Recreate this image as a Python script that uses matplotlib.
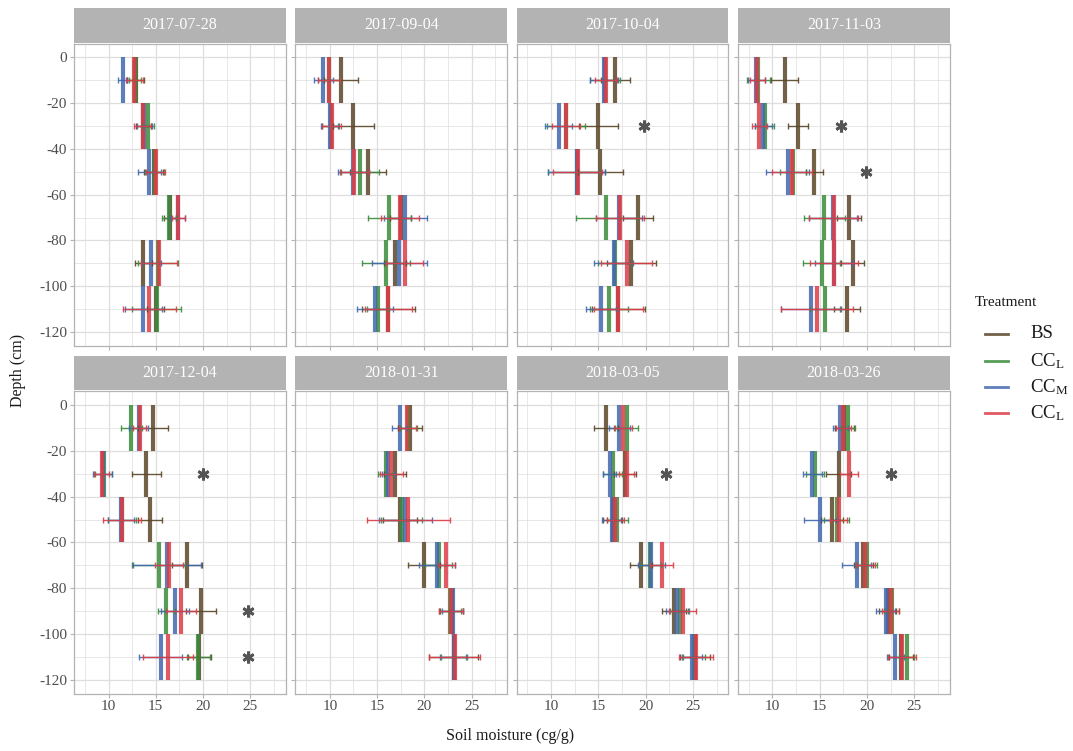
import matplotlib
matplotlib.use("Agg")
import matplotlib.pyplot as plt
import numpy as np

plt.rcParams['font.family'] = ['Liberation Serif', 'DejaVu Serif']
plt.rcParams['mathtext.fontset'] = 'custom'
plt.rcParams['mathtext.rm'] = 'Liberation Serif'
plt.rcParams['mathtext.it'] = 'Liberation Serif:italic'
plt.rcParams['axes.unicode_minus'] = False

dates = ["2017-07-28", "2017-09-04", "2017-10-04", "2017-11-03",
         "2017-12-04", "2018-01-31", "2018-03-05", "2018-03-26"]
depth_top = [0, -20, -40, -60, -80, -100]
depth_bot = [-20, -40, -60, -80, -100, -120]
treatments = ["BS", "CC$_\\mathrm{L}$", "CC$_\\mathrm{M}$", "CC$_\\mathrm{L}$"]
colors = ["#5a4628", "#3a8b3a", "#4268b0", "#dc3c46"]

# mean soil moisture per date (rows: layers 0-20 ... 100-120)
bs = [
    [12.9, 13.7, 14.8, 16.5, 13.7, 15.0],
    [11.2, 12.5, 14.0, 17.5, 16.9, 16.2],
    [16.8, 15.0, 15.2, 19.15, 18.5, 17.1],
    [11.3, 12.7, 14.45, 18.1, 18.5, 17.9],
    [14.7, 14.0, 14.4, 18.3, 19.8, 19.6],
    [18.5, 16.9, 17.4, 20.0, 22.9, 23.1],
    [15.8, 17.8, 16.5, 19.5, 23.0, 25.2],
    [17.6, 17.0, 16.3, 19.6, 22.2, 23.6],
]
ccl = [
    [12.8, 14.2, 14.9, 16.4, 15.2, 15.1],
    [9.9, 10.1, 13.2, 16.3, 15.95, 15.1],
    [15.7, 11.6, 12.7, 15.85, 16.8, 16.1],
    [8.5, 9.2, 12.2, 15.5, 15.2, 15.6],
    [12.4, 9.5, 11.4, 15.3, 16.1, 19.5],
    [18.3, 15.9, 17.6, 21.5, 22.7, 23.1],
    [18.0, 16.5, 17.0, 20.5, 23.6, 25.1],
    [18.0, 14.5, 16.8, 20.0, 22.6, 24.2],
]
ccm = [
    [11.5, 13.8, 14.3, 17.3, 14.5, 13.7],
    [9.3, 10.0, 12.5, 18.0, 17.35, 14.8],
    [15.6, 10.8, 12.7, 17.2, 16.6, 15.3],
    [8.3, 9.05, 11.6, 16.4, 16.5, 14.1],
    [13.2, 9.4, 11.3, 16.2, 17.0, 15.5],
    [17.4, 16.2, 18.0, 21.3, 23.0, 23.1],
    [17.2, 16.2, 16.4, 20.6, 23.3, 24.9],
    [17.2, 14.2, 15.0, 18.9, 22.0, 23.0],
]
ccl2 = [
    [12.7, 13.6, 15.0, 17.4, 15.3, 14.3],
    [9.9, 10.2, 12.6, 17.4, 17.9, 16.2],
    [15.8, 11.6, 12.8, 17.3, 18.0, 17.1],
    [8.4, 8.6, 12.1, 16.5, 16.5, 14.7],
    [13.3, 9.3, 11.4, 16.4, 17.7, 16.3],
    [18.2, 16.5, 18.3, 22.3, 22.8, 23.2],
    [17.6, 18.0, 16.8, 21.7, 23.9, 25.3],
    [17.5, 18.1, 17.0, 19.8, 22.5, 23.7],
]
# standard deviations (half error-bar widths)
sd_bs = [
    [0.9, 0.8, 1.0, 0.6, 0.9, 0.9],
    [1.8, 2.2, 1.9, 1.1, 1.2, 2.8],
    [1.5, 2.1, 2.4, 1.6, 2.6, 2.8],
    [1.4, 1.1, 0.9, 1.3, 1.2, 1.4],
    [1.6, 1.5, 1.3, 1.6, 1.6, 1.2],
    [1.3, 1.2, 1.8, 1.7, 1.2, 2.6],
    [1.3, 1.2, 1.0, 1.2, 1.3, 1.6],
    [1.0, 1.3, 1.2, 1.0, 0.9, 1.3],
]
sd_ccl = [
    [0.6, 0.6, 1.0, 0.7, 2.1, 2.6],
    [1.2, 0.9, 2.0, 2.3, 2.5, 1.2],
    [1.6, 2.0, 3.0, 3.2, 1.8, 2.0],
    [1.2, 1.0, 1.4, 2.2, 2.0, 1.6],
    [1.1, 0.9, 1.5, 2.8, 0.9, 1.2],
    [0.9, 0.8, 2.2, 1.4, 1.2, 1.3],
    [1.2, 1.0, 1.1, 1.1, 1.0, 1.2],
    [0.7, 1.0, 1.3, 1.1, 0.8, 0.8],
]
sd_ccm = [
    [0.5, 0.8, 1.2, 0.8, 1.0, 2.0],
    [1.0, 0.9, 1.6, 2.3, 2.9, 1.9],
    [1.5, 1.4, 3.0, 2.4, 2.1, 1.6],
    [0.9, 0.9, 2.3, 2.5, 2.0, 3.2],
    [1.0, 1.0, 1.4, 3.6, 1.5, 2.3],
    [0.8, 0.7, 2.8, 1.9, 1.1, 1.4],
    [1.1, 0.7, 1.0, 1.4, 1.2, 1.1],
    [0.8, 1.0, 1.7, 1.5, 1.0, 0.9],
]
sd_ccl2 = [
    [0.9, 0.9, 1.0, 0.7, 1.9, 2.8],
    [1.2, 1.0, 1.5, 2.0, 2.0, 2.5],
    [1.2, 1.5, 2.6, 2.5, 2.7, 2.6],
    [0.8, 0.8, 2.1, 2.6, 2.5, 3.8],
    [0.7, 0.8, 2.0, 1.5, 1.6, 2.6],
    [0.9, 1.2, 4.4, 0.9, 1.3, 2.7],
    [1.0, 0.8, 0.9, 1.2, 1.4, 1.8],
    [0.8, 1.0, 0.9, 1.0, 0.9, 1.5],
]
# significance stars: (panel index, x, depth)
star_panel = [2, 3, 3, 4, 4, 4, 6, 7]
star_x = [19.8, 17.3, 19.9, 20.0, 24.8, 24.8, 22.2, 22.5]
star_depth = [-30, -30, -50, -30, -90, -110, -30, -30]

means = [bs, ccl, ccm, ccl2]
sds = [sd_bs, sd_ccl, sd_ccm, sd_ccl2]

W, H = 1073, 751
fig = plt.figure(figsize=(W / 100, H / 100), dpi=100)

col_left = [74, 295.3, 516.6, 737.9]
pw = 211.8
row_top = [43.6, 391.3]
ph = 302.2
strip_h = 34.5

grid_c = "#dedede"
border_c = "#b3b3b3"
tick_c = "#4d4d4d"

for p, date in enumerate(dates):
    r, c = divmod(p, 4)
    x0 = col_left[c] / W
    y0 = 1 - (row_top[r] + ph) / H
    ax = fig.add_axes([x0, y0, pw / W, ph / H])
    ax.set_xlim(6.35, 28.75)
    ax.set_ylim(-126, 6)
    ax.set_xticks([10, 15, 20, 25])
    ax.set_xticks([7.5, 12.5, 17.5, 22.5, 27.5], minor=True)
    ax.set_yticks([0, -20, -40, -60, -80, -100, -120])
    ax.set_yticks([-10, -30, -50, -70, -90, -110], minor=True)
    ax.grid(True, which='major', color=grid_c, lw=0.9)
    ax.grid(True, which='minor', color=grid_c, lw=0.5)
    ax.set_axisbelow(True)
    for s in ax.spines.values():
        s.set_color(border_c)
        s.set_linewidth(0.9)
    ax.tick_params(which='both', length=0)
    ax.tick_params(which='major', length=3, color=border_c, labelsize=11,
                   labelcolor=tick_c, pad=2)
    if c != 0:
        ax.set_yticklabels([])
    if r == 0:
        ax.set_xticklabels([])

    mids = [(a + b) / 2 for a, b in zip(depth_top, depth_bot)]
    for t in range(4):
        m = means[t][p]
        ax.vlines(m, depth_bot, depth_top, colors=colors[t], lw=3.0,
                  alpha=0.85, zorder=3 + t)
    for t in range(4):
        m = means[t][p]
        ax.errorbar(m, mids, xerr=sds[t][p], fmt='none', ecolor=colors[t],
                    elinewidth=1.0, capsize=2, capthick=1.0, alpha=0.9,
                    zorder=8)
    sx = [x for sp, x in zip(star_panel, star_x) if sp == p]
    sy = [y for sp, y in zip(star_panel, star_depth) if sp == p]
    if sx:
        ax.plot(sx, sy, linestyle='none', marker=(6, 2, 0), markersize=8.5,
                markeredgewidth=2.0, color="#555555", zorder=9)

    # strip
    sy0 = 1 - (row_top[r] - 1) / H
    sax = fig.add_axes([x0, sy0, pw / W, strip_h / H])
    sax.set_xticks([])
    sax.set_yticks([])
    sax.set_facecolor("#b3b3b3")
    for s in sax.spines.values():
        s.set_visible(False)
    sax.text(0.5, 0.5, date, color="white", fontsize=11.5, ha='center',
             va='center', transform=sax.transAxes)

fig.text(18 / W, 1 - 370 / H, "Depth (cm)", rotation=90, ha='center',
         va='center', fontsize=11.5, color="#1a1a1a")
fig.text(510 / W, 1 - 736 / H, "Soil moisture (cg/g)", ha='center',
         va='center', fontsize=11.5, color="#1a1a1a")

# legend
fig.text(975 / W, 1 - 302 / H, "Treatment", ha='left', va='center',
         fontsize=11, color="#1a1a1a")
leg_y = [334, 361, 387, 413]
for t in range(4):
    yy = 1 - leg_y[t] / H
    fig.add_artist(plt.Line2D([985 / W, 1008 / W], [yy, yy],
                              color=colors[t], lw=2, alpha=0.85,
                              transform=fig.transFigure))
    fig.text(1030 / W, yy, treatments[t], ha='left', va='center',
             fontsize=13.5, color="#1a1a1a")

fig.savefig("out.png", dpi=100)
